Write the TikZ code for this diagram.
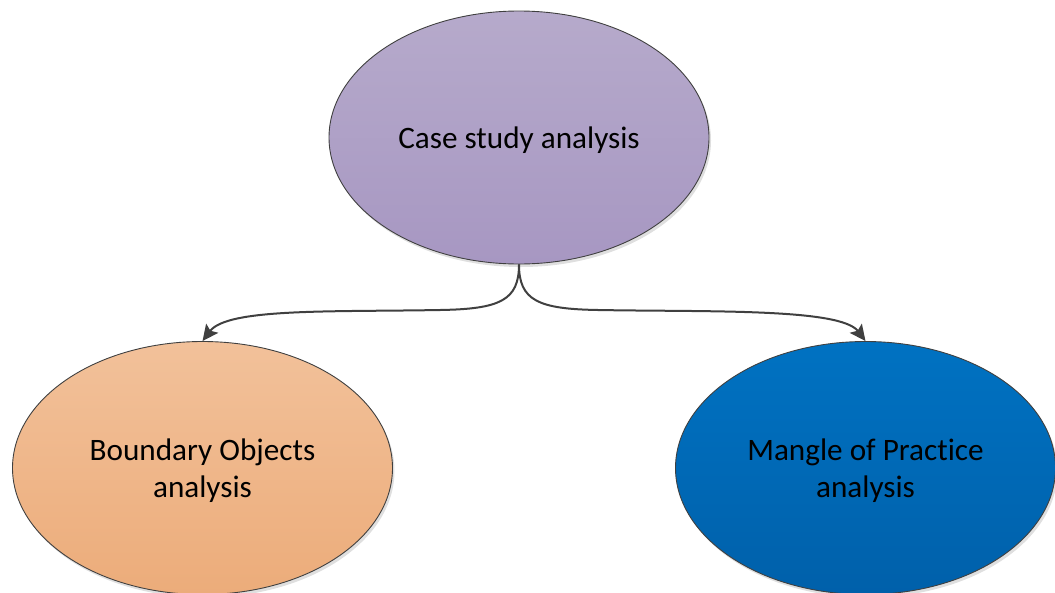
\documentclass[tikz,border=0pt]{standalone}
\usepackage{fontspec}
\setmainfont{Carlito}[Ligatures=NoCommon]
\usetikzlibrary{arrows.meta,shadows,shapes.geometric}
\definecolor{edgegray}{HTML}{404040}
\tikzset{
  bubble/.style={ellipse, draw=edgegray, line width=0.9pt,
    minimum width=380pt, minimum height=253pt, inner sep=0pt,
    align=center, font=\fontsize{31.2}{37}\selectfont, text depth=0pt,
    drop shadow={shadow xshift=2pt, shadow yshift=-3pt, opacity=0.25}},
  link/.style={draw=edgegray, line width=2pt,
    -{Stealth[length=16pt,width=15pt,inset=3pt]}}
}
\begin{document}
\begin{tikzpicture}[x=1pt,y=-1pt]
  \useasboundingbox (0,0) rectangle (1055,592);
  \node[bubble, top color={rgb,255:red,182;green,170;blue,203},
        bottom color={rgb,255:red,167;green,151;blue,194}]
    (case) at (519,137.5) {Case study analysis};
  \node[bubble, top color={rgb,255:red,242;green,193;blue,154},
        bottom color={rgb,255:red,236;green,172;blue,122}]
    (bound) at (202.5,468) {Boundary Objects\\analysis};
  \node[bubble, top color={rgb,255:red,0;green,114;blue,194},
        bottom color={rgb,255:red,0;green,96;blue,170}]
    (mangle) at (865.5,468) {Mangle of Practice\\analysis};
  % curved connectors from the case study to each analysis
  \draw[link] (case.south) .. controls +(0,36) and +(60,-1) .. (440,310)
    .. controls +(-110,2) and +(25,-33) .. (bound.north);
  \draw[link] (case.south) .. controls +(0,36) and +(-60,-1) .. (598,310)
    .. controls +(110,2) and +(-25,-33) .. (mangle.north);
\end{tikzpicture}
\end{document}
